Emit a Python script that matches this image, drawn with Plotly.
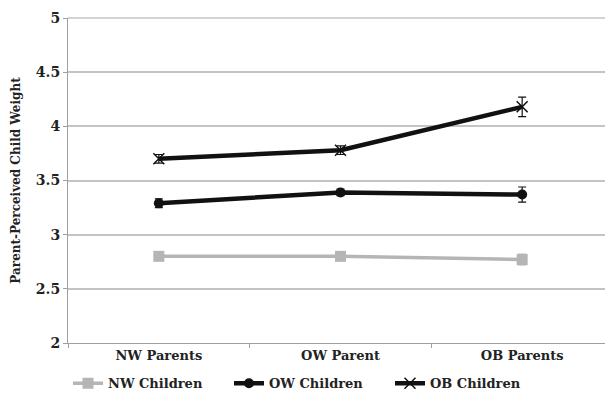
import plotly.graph_objects as go

categories = ["NW Parents", "OW Parent", "OB Parents"]
nw_children = [2.80, 2.80, 2.77]
nw_err = [0.03, 0.03, 0.05]
ow_children = [3.29, 3.39, 3.37]
ow_err = [0.04, 0.03, 0.07]
ob_children = [3.70, 3.78, 4.18]
ob_err = [0.04, 0.04, 0.09]
y_min, y_max = 2, 5

fig = go.Figure()
fig.add_trace(go.Scatter(
    x=categories, y=nw_children, name="<b>NW Children</b>", mode="lines+markers",
    line=dict(color="#b5b5b5", width=3.5),
    marker=dict(symbol="square", size=11, color="#b5b5b5"),
    error_y=dict(type="data", array=nw_err, color="#b5b5b5", thickness=1.2, width=4),
))
fig.add_trace(go.Scatter(
    x=categories, y=ow_children, name="<b>OW Children</b>", mode="lines+markers",
    line=dict(color="#111111", width=4.5),
    marker=dict(symbol="circle", size=10, color="#111111"),
    error_y=dict(type="data", array=ow_err, color="#111111", thickness=1.2, width=4),
))
fig.add_trace(go.Scatter(
    x=categories, y=ob_children, name="<b>OB Children</b>", mode="lines+markers",
    line=dict(color="#111111", width=4.5),
    marker=dict(symbol="x-thin", size=11, color="#111111", line=dict(width=1.5, color="#111111")),
    error_y=dict(type="data", array=ob_err, color="#111111", thickness=1.2, width=4),
))

# top gridline at the upper edge of the plot area (plotly drops edge gridlines)
fig.add_shape(type="line", xref="paper", x0=0, x1=1, yref="paper", y0=1, y1=1,
              line=dict(color="#c4c4c4", width=1.5), layer="below")

serif = "DejaVu Serif"
fig.update_layout(
    width=605, height=396,
    margin=dict(l=60, r=0, t=10, b=61),
    paper_bgcolor="white", plot_bgcolor="white",
    showlegend=True,
    legend=dict(orientation="h", x=0.0, y=-0.078, xanchor="left", yanchor="top",
                font=dict(family=serif, size=13, color="#222222"),
                itemwidth=30, tracegroupgap=0,
                entrywidth=116, entrywidthmode="pixels"),
    font=dict(family=serif, color="#222222"),
)
fig.update_xaxes(
    type="category", range=[-0.5, 2.5], automargin=False,
    showgrid=False, showline=True, linecolor="#a0a0a0", linewidth=1,
    ticks="outside", ticklen=4, tickcolor="#a0a0a0", tickson="boundaries",
    tickfont=dict(family=serif, size=13, color="#222222"),
    tickprefix="<b>", ticksuffix="</b>",
)
fig.update_yaxes(
    range=[y_min, y_max], dtick=0.5, tick0=2, showgrid=True, gridcolor="#c4c4c4", gridwidth=1.5,
    showline=True, linecolor="#a0a0a0", linewidth=1, zeroline=False, automargin=False,
    ticks="outside", ticklen=4, tickcolor="#a0a0a0",
    tickfont=dict(family=serif, size=14, color="#222222"),
    tickprefix="<b>", ticksuffix="</b>",
    title=dict(text="<b>Parent-Perceived Child Weight</b>", standoff=12,
               font=dict(family=serif, size=12, color="#222222")),
)
fig.write_html("out.html")
